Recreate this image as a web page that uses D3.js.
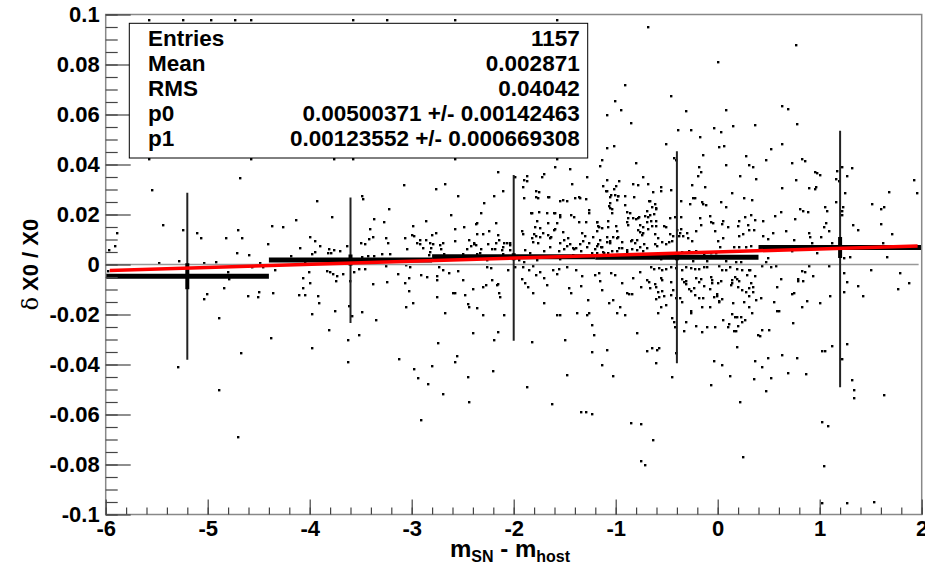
<!DOCTYPE html>
<html><head><meta charset="utf-8">
<script src="https://cdn.jsdelivr.net/npm/d3@7/dist/d3.min.js"></script>
<style>
body{margin:0;background:#fff}
svg{display:block}
text{font-family:"Liberation Sans",Arial,Helvetica,sans-serif;font-weight:bold;fill:#000}
</style>
</head><body>
<svg id="chart" width="925" height="570"></svg>
<script>
// ---------- data ----------
const xTicks = [-6,-5,-4,-3,-2,-1,0,1,2];
const xTickLabels = ["-6","-5","-4","-3","-2","-1","0","1","2"];
const yTicks = [0.1,0.08,0.06,0.04,0.02,0,-0.02,-0.04,-0.06,-0.08,-0.1];
const yTickLabels = ["0.1","0.08","0.06","0.04","0.02","0","-0.02","-0.04","-0.06","-0.08","-0.1"];

const binLo = [-6,-4.4,-2.8,-1.2,0.4];
const binHi = [-4.4,-2.8,-1.2,0.4,2];
const binCenters = [-5.2,-3.6,-2.0,-0.4,1.2];
const binMeans = [-0.0047,0.0018,0.0031,0.0029,0.0068];
const binMeanErr = [0.0052,0.0022,0.0014,0.0012,0.0042];
const binSpreadHi = [0.0287,0.0268,0.0358,0.0453,0.0535];
const binSpreadLo = [-0.0381,-0.0234,-0.0305,-0.0395,-0.0491];

const fitP0 = 0.00500371, fitP1 = 0.00123552;
const fitRange = [-5.96,1.96];

const statsLabels = ["Entries","Mean","RMS","p0","p1"];
const statsValues = ["1157","0.002871","0.04042","0.00500371 +/- 0.00142463","0.00123552 +/- 0.000669308"];

const scatter = [
[-5.58,0.098],[-5.24,0.098],[-4.97,0.098],[-4.73,0.098],[-4.58,0.098],[-3.58,0.098],
[-5.58,0.042],[-4.58,0.042],[-3.76,0.042],[-3.58,0.042],
[-3.24,0.098],[-2.58,0.098],[-1.58,0.098],[-0.68,0.095],[-2.58,0.042],[-1.58,0.042],
[-0.91,0.0719],[-1.01,0.0653],[-0.945,0.0618],[-1.085,0.0599],[-0.847,0.0565],[-1.085,0.0466],[-1.013,0.0475],[-1.13,0.0419],[-0.798,0.0405],
[-4.686,0.0345],[-5.549,0.0298],[-3.484,0.0273],[-3.477,0.0261],[-3.928,0.0253],[-5.441,0.0159],[-3.784,0.0189],[-3.366,0.0181],[-4.137,0.0178],[-4.373,0.0154],[-4.265,0.0149],[-5.886,0.0127],[-5.242,0.0138],[-5.108,0.0127],[-5.069,0.0106],[-4.699,0.0137],[-4.663,0.0106],[-4.817,0.0106],[-3.405,0.0143],[-4.0,0.0109],[-3.948,0.0093],[-3.902,0.0074],[-4.408,0.0082],[-3.376,0.0111],[-3.5,0.0085],[-3.458,0.0082],[-3.418,0.0101],[-5.912,0.0075],[-5.967,0.0058],[-4.095,0.0065],[-3.81,0.0062],[-3.765,0.0059],[-3.824,0.0045],[-3.79,0.0047],[-3.706,0.0055],[-3.631,0.0074],[-3.98,0.0043],[-3.948,0.005],[-4.716,0.0045],[-4.592,0.0037],[-4.183,0.0034],[-3.484,0.0031],[-3.431,0.0033],[-3.366,0.0035],[-5.474,0.0008],[-5.281,0.0014],[-5.033,0.0007],[-4.922,0.0009],[-4.487,0.0007],[-4.046,0.0009],
[-4.798,-0.0029],[-4.791,-0.0058],[-4.837,-0.0095],[-5.004,-0.0118],[-5.033,-0.0139],[-4.893,-0.0215],[-4.602,-0.0127],[-4.501,-0.0111],[-4.507,-0.013],[-4.357,-0.0115],[-4.376,-0.0295],[-4.67,-0.0355],[-4.337,-0.0023],[-4.063,-0.0055],[-4.069,-0.0095],[-3.997,-0.0075],[-4.105,-0.0121],[-4.043,-0.0121],[-4.004,-0.0029],[-3.922,-0.0127],[-3.912,-0.0155],[-3.981,-0.0199],[-3.974,-0.0335],[-3.814,-0.0263],[-3.752,-0.0187],[-3.827,-0.0026],[-3.801,-0.003],[-3.769,-0.0039],[-3.736,-0.0046],[-3.739,-0.0067],[-3.674,-0.0039],[-3.618,-0.0165],[-3.585,-0.0206],[-3.621,-0.0303],[-3.608,-0.0065],[-3.563,-0.0031],[-3.513,-0.0019],[-3.458,-0.0019],[-3.513,-0.0282],[-3.484,-0.0191],[-3.376,-0.0079],[-3.347,-0.0222],[-3.239,-0.0071],[-3.134,-0.0037],[-3.128,-0.0379],[-3.252,-0.0005],
[-5.974,-0.0025],[-5.294,-0.0411],[-4.892,-0.0502],[-4.699,-0.0691],[-3.624,-0.0389],[-4.562,-0.0011],[-4.454,-0.0011],
[-2.157,0.0371],[-1.984,0.0349],[-1.866,0.0354],[-1.873,0.0335],[-1.726,0.0351],[-1.706,0.0362],[-1.592,0.0389],[-1.451,0.0383],[-1.157,0.0393],[-1.278,0.0351],[-0.732,0.0351],[-3.072,0.0319],[-2.765,0.0302],[-2.677,0.0322],[-2.543,0.0275],[-2.19,0.0275],[-2.105,0.0293],[-3.226,0.0223],[-2.288,0.0245],[-2.618,0.0197],[-2.86,0.0175],[-2.987,0.0155],[-3.268,0.0169],[-2.373,0.0162],[-2.484,0.0149],[-2.173,0.0165],[-2.758,0.0126],[-2.801,0.0117],[-3.062,0.0106],[-2.997,0.0117],[-2.974,0.0114],[-3.255,0.0106],[-3.235,0.0085],[-2.948,0.0085],[-2.922,0.0082],[-2.817,0.0085],[-2.719,0.0079],[-2.579,0.0095],[-2.392,0.0085],[-2.373,0.0077],[-2.36,0.0122],[-2.249,0.0082],[-2.157,0.0117],[-2.098,0.0085],[-2.039,0.0077],[-3.294,0.0042],[-3.209,0.0042],[-3.046,0.0063],[-2.817,0.0051],[-2.833,0.0038],[-2.686,0.0042],[-2.458,0.0062],[-2.497,0.0042],[-2.36,0.0042],[-2.327,0.0047],[-2.18,0.0062],[-2.111,0.0058],[-2.105,0.0042],
[-1.909,0.0309],[-1.778,0.0295],[-1.784,0.0271],[-1.762,0.0265],[-1.65,0.0269],[-1.402,0.0266],[-1.347,0.0266],[-1.288,0.0262],[-1.52,0.0258],[-1.827,0.0205],[-1.608,0.0205],[-1.549,0.0199],[-1.438,0.0197],[-1.258,0.0206],[-1.098,0.0293],[-1.059,0.0271],[-1.02,0.0302],[-1.0,0.0315],[-0.98,0.0275],[-1.085,0.0338],[-0.967,0.0335],[-0.905,0.0275],[-0.827,0.0321],[-0.824,0.0271],[-0.686,0.0322],[-1.052,0.0226],[-1.036,0.0206],[-0.905,0.0239],[-0.771,0.019],[-0.713,0.0193],[-1.771,0.0175],[-1.742,0.0146],[-1.664,0.0167],[-1.363,0.017],[-1.18,0.017],[-1.173,0.0153],[-1.183,0.0135],[-1.078,0.0175],[-1.072,0.0149],[-0.997,0.0154],[-0.987,0.0133],[-0.882,0.0186],[-0.876,0.016],[-0.784,0.0138],[-1.915,0.0135],[-1.905,0.0122],[-1.804,0.0122],[-1.817,0.0106],[-1.765,0.0085],[-1.667,0.0117],[-1.644,0.0106],[-1.549,0.0087],[-1.471,0.0106],[-1.451,0.0082],[-1.347,0.0082],[-1.32,0.0095],[-1.281,0.0069],[-1.262,0.0085],[-1.173,0.0082],[-1.144,0.0071],[-1.085,0.0111],[-1.052,0.0095],[-0.987,0.0106],[-0.938,0.009],[-0.85,0.0095],[-0.807,0.0085],[-0.742,0.0119],[-0.726,0.0082],[-1.889,0.006],[-1.837,0.0045],[-1.706,0.0055],[-1.641,0.0069],[-1.559,0.0053],[-1.51,0.0061],[-1.412,0.0062],[-1.34,0.0053],[-1.199,0.0062],[-1.118,0.0047],[-1.033,0.0055],[-0.971,0.0066],[-0.84,0.0061],[-0.758,0.0069],
[-2.788,0.0082],[-2.693,0.0085],[-2.886,0.0065],[-2.814,0.0065],[-2.716,0.0061],[-2.919,0.0098],[-2.857,0.0098],[-2.576,0.0141],[-2.438,0.0098],[-2.363,0.0165],[-2.305,0.0122],[-2.318,0.0205],[-2.242,0.0135],[-2.422,0.0074],[-2.389,0.0082],[-2.321,0.0061],[-2.216,0.0061],[-2.174,0.0087],[-2.145,0.0098],[-2.069,0.0085],[-2.036,0.0085],[-2.259,0.0018],[-2.314,0.0031],[-2.102,0.0071],[-2.036,0.0058],[-1.899,0.0338],[-1.755,0.0291],[-1.899,0.0267],[-1.824,0.0205],[-1.749,0.0211],[-1.661,0.0269],[-1.425,0.0321],[-1.546,0.0255],[-1.481,0.0255],[-1.357,0.0269],[-1.121,0.0314],[-1.089,0.0295],[-1.05,0.0279],[-1.007,0.0277],[-0.974,0.0274],[-0.991,0.0258],[-0.778,0.0317],[-0.638,0.029],[-0.671,0.0255],[-0.556,0.0309],[-0.615,0.0242],[-1.677,0.0205],[-1.599,0.0205],[-1.579,0.0165],[-1.546,0.0191],[-1.605,0.0138],[-1.514,0.0131],[-1.409,0.0189],[-1.291,0.0171],[-1.262,0.0218],[-1.187,0.0171],[-1.161,0.0151],[-1.131,0.0145],[-1.063,0.0234],[-1.037,0.0223],[-1.056,0.0247],[-0.893,0.0211],[-0.86,0.0205],[-0.886,0.0171],[-0.827,0.0185],[-0.801,0.0183],[-0.778,0.0185],[-0.68,0.0189],[-0.697,0.0171],[-0.697,0.0215],[-0.762,0.0158],[-0.736,0.0151],[-1.795,0.0151],[-1.782,0.0114],[-1.742,0.0109],[-1.814,0.0091],[-1.709,0.0127],[-1.638,0.0109],[-1.592,0.0143],[-1.507,0.0098],[-1.481,0.0074],[-1.416,0.0065],[-1.39,0.0065],[-1.334,0.0125],[-1.301,0.0114],[-1.22,0.0109],[-1.154,0.0098],[-1.187,0.0074],[-1.138,0.0069],[-1.089,0.0091],[-1.056,0.0087],[-1.023,0.0109],[-0.974,0.0109],[-0.942,0.0065],[-0.893,0.0058],[-0.844,0.0098],[-0.795,0.0098],[-0.762,0.0131],[-0.729,0.0125],[-0.68,0.0141],[-0.697,0.0065],[-1.945,0.0018],[-1.899,0.0011],[-1.775,0.0018],[-1.742,0.0031],[-1.638,0.0031],[-1.546,0.0023],[-1.416,0.0038],[-1.317,0.0031],[-1.236,0.0045],[-1.187,0.0047],[-1.121,0.0051],[-1.073,0.0045],[-0.991,0.0055],[-0.893,0.0051],[-0.795,0.0058],[-0.736,0.0055],
[-3.056,-0.0002],[-3.017,-0.0011],[-3.023,-0.0055],[-3.069,-0.0075],[-3.027,-0.0106],[-2.984,-0.0155],[-3.053,-0.0169],[-2.906,-0.0042],[-2.854,-0.0051],[-2.756,-0.0062],[-2.749,-0.0046],[-2.729,-0.0011],[-2.69,-0.0022],[-2.677,-0.0193],[-2.749,-0.013],[-2.742,-0.0313],[-2.592,-0.0113],[-2.576,-0.0115],[-2.635,-0.0035],[-2.543,-0.0025],[-2.553,-0.0366],[-2.494,-0.0062],[-2.474,-0.0122],[-2.445,-0.0158],[-2.438,-0.0169],[-2.403,-0.0099],[-2.403,-0.0275],[-2.363,-0.0175],[-2.298,-0.0089],[-2.272,-0.0083],[-2.298,-0.0203],[-2.259,-0.0009],[-2.223,-0.0015],[-2.213,-0.0062],[-2.167,-0.0083],[-2.151,-0.0078],[-2.135,-0.0129],[-2.141,-0.0115],[-2.193,-0.0302],[-2.151,-0.027],[-2.095,-0.0203],[-2.053,-0.0022],[-1.988,-0.0009],[-1.906,-0.0009],[-1.85,-0.0022],[-1.814,-0.0006],[-1.922,-0.0059],[-1.857,-0.0089],[-1.893,-0.0075],[-1.782,-0.0042],[-1.808,-0.0113],[-1.824,-0.0309],[-1.742,-0.003],[-1.703,-0.0055],[-1.677,-0.0082],[-1.706,-0.0155],[-1.612,-0.0022],[-1.572,-0.0038],[-1.553,-0.0019],[-1.579,-0.0202],[-1.546,-0.0203],[-1.497,-0.0302],[-1.474,-0.0009],[-1.455,-0.0095],[-1.442,-0.0115],[-1.39,-0.0022],[-1.383,-0.0193],[-1.334,-0.0046],[-1.34,-0.0086],[-1.269,-0.0142],[-1.278,-0.0203],[-1.262,-0.0195],[-1.233,-0.0242],[-1.236,-0.0349],[-1.213,-0.0282],[-1.2,-0.0042],[-1.167,-0.0033],[-1.154,-0.0065],[-1.138,-0.0102],[-1.089,-0.0342],[-1.063,-0.0153],[-1.024,-0.0142],[-1.05,-0.0033],[-1.007,-0.0042],[-0.991,-0.0193],[-0.958,-0.0169],[-0.906,-0.0203],[-0.893,-0.0115],[-0.867,-0.0118],[-0.844,-0.0119],[-0.942,-0.0073],[-0.827,-0.0055],[-0.788,-0.0275],[-0.762,-0.0029],[-0.755,-0.0089],[-0.697,-0.0062],[-0.69,-0.0345],
[-2.974,-0.0419],[-2.935,-0.0455],[-2.804,-0.0407],[-2.837,-0.0479],[-2.696,-0.0518],[-2.912,-0.0623],[-2.572,-0.0391],[-2.448,-0.0451],[-2.441,-0.0551],[-2.203,-0.0426],[-1.873,-0.0489],[-1.624,-0.0558],[-1.477,-0.0442],[-1.34,-0.059],[-1.288,-0.059],[-1.232,-0.0598],[-1.131,-0.0403],[-1.023,-0.0447],[-0.847,-0.0635],[-0.749,-0.0639],[-0.755,-0.0787],[-0.716,-0.0803],
[0.765,0.0877],[0.007,0.0809],[-0.454,0.0673],[-0.314,0.0615],[0.082,0.0618],[0.634,0.0633],[0.686,0.0621],[-0.392,0.0539],[-0.261,0.0537],[-0.032,0.0546],[0.033,0.053],[0.363,0.0559],[0.775,0.0562],[-0.176,0.0509],[-0.506,0.0481],[0.062,0.0473],[0.017,0.0469],[0.147,0.0553],[0.526,0.0461],[0.634,0.0481],[-0.144,0.0439],[0.275,0.0435],[0.477,0.0419],[-0.431,0.0426],[-0.412,0.0419],[0.732,0.0405],[0.824,0.0422],[0.856,0.0414],[0.085,0.0398],[0.307,0.0398],[0.35,0.0389],[-0.183,0.0391],[-0.16,0.0369],[-0.196,0.0353],[0.222,0.0353],[0.379,0.0342],[0.771,0.0337],[0.951,0.037],[0.977,0.0367],[1.0,0.036],[1.167,0.0373],[1.216,0.039],[1.32,0.0385],[1.16,0.0342],[1.19,0.0333],[1.265,0.0354],[1.928,0.0337],[1.958,0.0285],[1.68,0.0289],[-0.255,0.0319],[-0.124,0.0309],[-0.552,0.0293],[-0.454,0.0298],[0.628,0.0305],[0.899,0.0305],[0.951,0.0303],[0.961,0.0309],[0.144,0.0287],[1.249,0.0287],[-0.359,0.0253],[-0.245,0.0265],[-0.222,0.0265],[-0.268,0.0241],[-0.15,0.0251],[-0.14,0.0242],[-0.111,0.0237],[0.033,0.025],[0.082,0.023],[0.262,0.0266],[0.34,0.0258],[1.157,0.025],[1.232,0.0231],[1.216,0.0215],[1.222,0.0199],[1.517,0.0241],[1.605,0.0221],[1.628,0.0229],[1.598,0.0162],[1.049,0.0229],[1.075,0.0215],[0.807,0.0222],[0.84,0.0215],[0.883,0.0209],[0.755,0.0182],[0.621,0.0209],[0.562,0.0194],[0.441,0.0173],[0.324,0.0197],[0.265,0.0189],[0.298,0.016],[0.366,0.0178],[0.209,0.0173],[0.203,0.0155],[0.101,0.0151],[0.053,0.0175],[0.039,0.0162],[-0.075,0.0194],[-0.065,0.0169],[-0.042,0.0166],[-0.176,0.0185],[-0.167,0.016],[-0.356,0.0191],[-0.418,0.0189],[-0.467,0.0186],[-0.601,0.0221],[-0.624,0.0202],[-0.66,0.0199],[-0.657,0.0175],[-0.608,0.0175],[-0.64,0.0154],[-0.601,0.0155],[-0.526,0.0154],[-0.503,0.0149],[-0.47,0.0122],[-0.398,0.0138],[-0.369,0.0125],[-0.359,0.0141],[-0.379,0.0114],[-0.617,0.0122],[-0.581,0.0106],[-0.614,0.0082],[-0.595,0.0074],[-0.542,0.009],[-0.51,0.0082],[-0.477,0.009],[-0.451,0.0095],[-0.438,0.0115],[-0.34,0.0115],[-0.297,0.0125],[-0.287,0.0106],[-0.255,0.0095],[-0.216,0.0133],[-0.026,0.0133],[0.007,0.0093],[0.053,0.0106],[0.213,0.0114],[0.249,0.0122],[0.307,0.0138],[0.36,0.0138],[0.448,0.0115],[0.494,0.0102],[0.546,0.0127],[0.667,0.0133],[0.752,0.0098],[0.899,0.0125],[0.909,0.0111],[0.928,0.0087],[1.013,0.0109],[1.043,0.0149],[1.059,0.0165],[1.095,0.0134],[1.118,0.0087],[1.327,0.0159],[1.373,0.0137],[1.706,0.0121],[1.618,0.0087],[1.66,0.003],[1.301,0.0029],[1.239,0.0025],[0.971,0.0047],[0.729,0.0055],[0.49,0.0026],[0.477,0.001],[0.157,0.0071],[0.209,0.0071],[0.275,0.0071],[0.327,0.0073],[-0.02,0.0047],[0.023,0.0069],[-0.065,0.0047],[-0.101,0.0015],[-0.134,0.0042],[-0.281,0.0053],[-0.216,0.0053],[-0.242,0.0015],[-0.346,0.005],[-0.389,0.0042],[-0.359,0.0029],[0.079,0.0015],[0.183,0.0009],[0.226,0.0009],[-0.51,0.0042],[-0.559,0.0022],[-0.64,0.0029],[-0.66,0.0253],[-0.647,0.0229],[-0.608,0.0226],
[-0.657,-0.0011],[-0.624,-0.0018],[-0.575,-0.0014],[-0.549,-0.0022],[-0.51,-0.0017],[-0.461,-0.0011],[-0.412,-0.0014],[-0.346,-0.0022],[-0.307,-0.0011],[-0.264,-0.0014],[-0.222,-0.0018],[-0.183,-0.0019],[-0.134,-0.0009],[-0.101,-0.0011],[0.013,-0.0005],[0.039,-0.0022],[0.079,-0.0022],[0.118,-0.0011],[0.193,-0.0018],[0.236,-0.0022],[0.307,-0.0022],[0.438,-0.0005],[0.52,-0.0011],[0.569,-0.0005],[0.896,-0.0005],[1.092,-0.0005],[1.5,-0.0022],[1.785,-0.0033],
[-0.673,-0.0071],[-0.666,-0.0094],[-0.614,-0.0078],[-0.608,-0.0089],[-0.559,-0.0054],[-0.542,-0.0062],[-0.581,-0.0111],[-0.575,-0.0129],[-0.526,-0.0127],[-0.549,-0.0105],[-0.601,-0.0138],[-0.51,-0.0161],[-0.555,-0.0171],[-0.581,-0.0195],[-0.461,-0.0071],[-0.457,-0.0121],[-0.438,-0.0102],[-0.412,-0.0134],[-0.372,-0.0134],[-0.353,-0.0151],[-0.444,-0.0215],[-0.428,-0.0231],[-0.418,-0.0251],[-0.647,-0.0334],[-0.591,-0.0342],[-0.575,-0.0334],[-0.608,-0.0395],[-0.444,-0.0451],[-0.412,-0.0355],[-0.631,-0.0701],
[-0.346,-0.0058],[-0.33,-0.0071],[-0.314,-0.0065],[-0.307,-0.0078],[-0.281,-0.0098],[-0.265,-0.0105],[-0.232,-0.0094],[-0.225,-0.0121],[-0.216,-0.0054],[-0.167,-0.0058],[-0.183,-0.0071],[-0.134,-0.0085],[-0.183,-0.0134],[-0.144,-0.0134],[-0.258,-0.0185],[-0.258,-0.0195],[-0.314,-0.0231],[-0.33,-0.0265],[-0.216,-0.0245],[-0.15,-0.0169],[-0.15,-0.0271],[-0.101,-0.0251],[-0.029,-0.0251],[-0.075,-0.0171],[-0.068,-0.0051],[-0.059,-0.0062],[-0.052,-0.0075],[-0.075,-0.0098],[-0.036,-0.0129],[-0.01,-0.0118],[-0.003,-0.0125],[0.01,-0.015],[0.029,-0.0067],[0.007,-0.0075],[0.049,-0.0222],[0.105,-0.0251],[0.111,-0.0238],[0.137,-0.0062],[0.144,-0.0075],[0.134,-0.0081],[0.17,-0.0049],[0.193,-0.0058],[0.209,-0.0067],[0.203,-0.0089],[0.236,-0.0102],[0.281,-0.0111],[0.307,-0.0094],[0.144,-0.0198],[0.17,-0.0211],[0.186,-0.0209],[0.203,-0.0247],[0.154,-0.0155],[0.226,-0.0211],[0.236,-0.0231],[0.265,-0.0222],[0.177,-0.0265],[0.16,-0.0267],[0.046,-0.0138],[0.013,-0.0147],[0.317,-0.0022],[0.291,-0.0041],[0.324,-0.0075],[0.347,-0.0091],[0.366,-0.0045],[0.347,-0.0111],[0.307,-0.0125],[0.379,-0.0142],[0.425,-0.0135],[0.258,-0.0151],[0.307,-0.0169],[0.334,-0.0195],[0.399,-0.0281],[0.412,-0.0285],[0.438,-0.0262],[0.503,-0.0262],[0.193,-0.0331],[-0.036,-0.0387],[0.039,-0.0401],[-0.068,-0.0482],[0.118,-0.0445],[0.216,-0.0551],[0.248,-0.0769],[0.363,-0.0387],[0.356,-0.0458],[0.432,-0.0411],[0.494,-0.0374],[0.526,-0.0455],[0.471,-0.0507],[0.552,-0.0151],[0.585,-0.0185],[0.601,-0.0185],[0.585,-0.0089],[0.618,-0.0058],[0.628,-0.0362],[0.693,-0.0435],[0.726,-0.0118],[0.752,-0.0115],[0.742,-0.0235],[0.781,-0.0375],[0.788,-0.0058],[0.791,-0.0065],[0.837,-0.0067],[0.824,-0.0025],[0.853,-0.0031],[0.83,-0.0169],[0.879,-0.0147],[0.866,-0.0438],[0.935,-0.0045],[1.007,-0.0155],[1.105,-0.0127],[1.02,-0.0345],[1.053,-0.0347],[1.124,-0.0325],[1.026,-0.0631],[1.082,-0.0647],[1.043,-0.0805],[1.02,-0.0955],[1.235,-0.0035],[1.265,-0.0071],[1.235,-0.0109],[1.271,-0.0319],[1.216,-0.0379],[1.32,-0.0461],[1.34,-0.0502],[1.34,-0.0534],[1.379,-0.0087],[1.428,-0.0125],[1.265,-0.0955],[1.536,-0.0949],[1.628,-0.0521],[1.768,-0.0099],[1.879,-0.0074]
];

// ---------- layout ----------
const W = 925, H = 570;
const plot = {left:105.7, right:921.7, top:14.5, bottom:514.5};
const svg = d3.select("#chart");
const x = d3.scaleLinear().domain([-6,2]).range([plot.left, plot.right]);
const y = d3.scaleLinear().domain([-0.1,0.1]).range([plot.bottom, plot.top]);

svg.append("rect").attr("width",W).attr("height",H).attr("fill","#fff");

// scatter points (small square dots)
svg.append("g").selectAll("rect").data(scatter).join("rect")
  .attr("x", d => Math.round(x(d[0])) - 1)
  .attr("y", d => Math.round(y(d[1])) - 1)
  .attr("width", 2.4).attr("height", 2.4)
  .attr("fill", "#000");

// zero line
svg.append("line")
  .attr("x1", x(-6)).attr("x2", x(1.97))
  .attr("y1", y(0)).attr("y2", y(0))
  .attr("stroke", "#999").attr("stroke-width", 1.5);

// profile: spread bars, mean errors, bin means
const prof = svg.append("g");
binCenters.forEach((c,i) => {
  prof.append("line")
    .attr("x1", x(c)).attr("x2", x(c))
    .attr("y1", y(binSpreadHi[i])).attr("y2", y(binSpreadLo[i]))
    .attr("stroke", "#222").attr("stroke-width", 2);
  prof.append("line")
    .attr("x1", x(c)).attr("x2", x(c))
    .attr("y1", y(binMeans[i] + binMeanErr[i])).attr("y2", y(binMeans[i] - binMeanErr[i]))
    .attr("stroke", "#000").attr("stroke-width", 4);
  prof.append("line")
    .attr("x1", x(binLo[i])).attr("x2", x(binHi[i]))
    .attr("y1", y(binMeans[i])).attr("y2", y(binMeans[i]))
    .attr("stroke", "#000").attr("stroke-width", 5);
});

// fit line
svg.append("line")
  .attr("x1", x(fitRange[0])).attr("y1", y(fitP0 + fitP1*fitRange[0]))
  .attr("x2", x(fitRange[1])).attr("y2", y(fitP0 + fitP1*fitRange[1]))
  .attr("stroke", "#ff0000").attr("stroke-width", 3.5);

// frame
svg.append("rect")
  .attr("x", plot.left).attr("y", plot.top)
  .attr("width", plot.right - plot.left).attr("height", plot.bottom - plot.top)
  .attr("fill", "none").attr("stroke", "#888").attr("stroke-width", 1.5);

// x axis
const xMinor = d3.range(-6, 2.0001, 0.2).map(v => +v.toFixed(2));
const xAxisMinor = d3.axisBottom(x).tickValues(xMinor).tickSize(-7).tickFormat("");
const xAxisMajor = d3.axisBottom(x).tickValues(xTicks).tickSize(-15).tickPadding(6)
  .tickFormat((d,i) => xTickLabels[i]);
const gxm = svg.append("g").attr("transform", `translate(0,${plot.bottom})`).call(xAxisMinor);
const gx = svg.append("g").attr("transform", `translate(0,${plot.bottom})`).call(xAxisMajor);
[gxm, gx].forEach(g => { g.select(".domain").remove(); g.selectAll("line").attr("stroke","#444").attr("stroke-width",1.2); });
gx.selectAll("text").attr("font-size", 22).attr("font-family","Liberation Sans, Arial, sans-serif").attr("font-weight","bold").attr("fill","#000");

// y axis
const yMinor = d3.range(-0.1, 0.10001, 0.005).map(v => +v.toFixed(3));
const yAxisMinor = d3.axisLeft(y).tickValues(yMinor).tickSize(-12).tickFormat("");
const yAxisMajor = d3.axisLeft(y).tickValues(yTicks).tickSize(-25).tickPadding(6)
  .tickFormat((d,i) => yTickLabels[i]);
const gym = svg.append("g").attr("transform", `translate(${plot.left},0)`).call(yAxisMinor);
const gy = svg.append("g").attr("transform", `translate(${plot.left},0)`).call(yAxisMajor);
[gym, gy].forEach(g => { g.select(".domain").remove(); g.selectAll("line").attr("stroke","#444").attr("stroke-width",1.2); });
gy.selectAll("text").attr("font-size", 22).attr("font-family","Liberation Sans, Arial, sans-serif").attr("font-weight","bold").attr("fill","#000");

// axis titles
const xt = svg.append("text").attr("x", 510).attr("y", 557).attr("text-anchor","middle").attr("font-size",24);
xt.append("tspan").text("m");
xt.append("tspan").attr("font-size",16).attr("dy",5).text("SN");
xt.append("tspan").attr("dy",-5).text(" - m");
xt.append("tspan").attr("font-size",16).attr("dy",5).text("host");

const yt = svg.append("text").attr("transform", `translate(38,${y(0)}) rotate(-90)`)
  .attr("text-anchor","middle").attr("font-size",22);
yt.append("tspan").attr("font-weight","normal").attr("font-family","DejaVu Serif, serif").text("δ");
yt.append("tspan").text(" X0 / X0");

// stats box
const box = {x:129.3, y:23.3, w:458.4, h:134.7};
svg.append("rect").attr("x", box.x).attr("y", box.y).attr("width", box.w).attr("height", box.h)
  .attr("fill","#fff").attr("stroke","#000").attr("stroke-width",1);
const sb = svg.append("g");
statsLabels.forEach((l,i) => {
  sb.append("text").attr("x", 148).attr("y", 46 + i*25).attr("font-size", 22.5).text(l);
  sb.append("text").attr("x", 579.7).attr("y", 46 + i*25).attr("font-size", 22.5)
    .attr("text-anchor","end").text(statsValues[i]);
});
</script>
</body></html>
